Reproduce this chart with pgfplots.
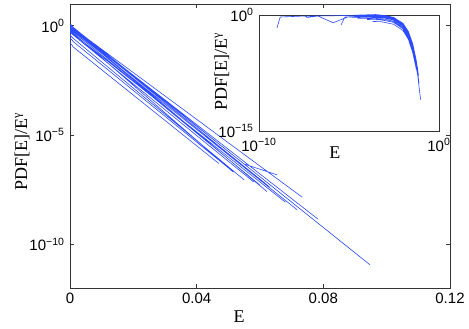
\documentclass[border=0pt]{standalone}
\usepackage{fontspec}
\setmainfont{Liberation Serif}
\setsansfont{Liberation Sans}
\usepackage{pgfplots}
\usepackage{pgfplotstable}
\pgfplotsset{compat=1.18}
\definecolor{curveblue}{RGB}{45,75,255}

% all curves in one table, separated by nan rows
\pgfplotstableread{
E P
1e-4 1.07
3e-4 1.15
0.001 0.86
0.003 0.504
0.01 7.8e-2
0.02 5.4e-3
0.035 9.8e-5
0.055 4.7e-7
0.0947 1.16e-11
nan nan
1e-5 0.60
1e-4 0.68
0.001 0.47
0.003 0.264
0.01 3.47e-2
0.02 1.9e-3
0.035 2.45e-5
0.0515 2.05e-7
nan nan
5e-5 1.05
3e-4 0.93
0.001 0.755
0.003 0.43
0.01 6.0e-2
0.02 3.63e-3
0.035 5.37e-5
0.055 1.95e-7
0.0622 2.58e-8
nan nan
2e-5 0.955
2e-4 1.07
0.001 0.767
0.003 0.452
0.01 7.08e-2
0.02 5.01e-3
0.035 9.44e-5
0.055 4.73e-7
0.0654 1.51e-7
nan nan
4e-8 0.71
1e-6 0.79
1e-4 1.0
5e-4 0.91
0.001 0.78
0.003 0.477
0.01 8.5e-2
0.02 7.24e-3
0.035 1.8e-4
0.055 1.30e-6
0.0733 1.44e-8
nan nan
3e-5 0.83
3e-4 0.76
0.001 0.61
0.003 0.356
0.01 5.5e-2
0.02 3.8e-3
0.035 6.9e-5
0.055 3.31e-7
0.0717 3.83e-9
nan nan
1e-4 1.07
4e-4 0.977
0.001 0.77
0.003 0.458
0.01 7.41e-2
0.02 5.5e-3
0.035 1.11e-4
0.055 6.1e-7
0.0783 1.42e-9
nan nan
1e-5 0.525
2e-4 0.48
0.001 0.382
0.003 0.222
0.01 3.31e-2
0.02 2.19e-3
0.035 3.72e-5
0.058 7.18e-8
nan nan
3e-5 0.38
3e-4 0.339
0.001 0.269
0.003 0.155
0.01 2.24e-2
0.02 1.41e-3
0.035 2.24e-5
0.055 8.9e-8
nan nan
1e-4 0.263
5e-4 0.24
0.001 0.191
0.003 0.111
0.01 1.66e-2
0.02 1.10e-3
0.035 1.86e-5
0.05 3.16e-7
nan nan
2e-4 0.148
6e-4 0.135
0.001 0.108
0.003 6.34e-2
0.01 9.8e-3
0.02 6.76e-4
0.035 1.23e-5
0.047 4.99e-7
nan nan
5e-5 0.74
5e-4 0.676
0.001 0.538
0.003 0.311
0.01 4.57e-2
0.02 2.95e-3
0.035 4.84e-5
0.06 5.13e-8
nan nan
2e-4 0.933
6e-4 0.851
0.001 0.675
0.003 0.386
0.01 5.5e-2
0.02 3.39e-3
0.035 5.19e-5
0.056 1.49e-7
nan nan
1e-9 2.1e-2
1.5e-9 0.55
3.6e-8 0.74
4.7e-8 0.48
1.9e-7 0.74
1.3e-6 0.1
8.7e-6 0.56
1e-4 0.79
0.001 0.764
0.003 0.446
0.01 6.76e-2
0.02 4.57e-3
0.035 8.04e-5
0.055 3.67e-7
0.063 4.26e-8
nan nan
3.6e-6 5.1e-2
6e-6 0.55
3e-5 0.63
3e-4 0.537
0.001 0.431
0.003 0.254
0.01 3.98e-2
0.02 2.82e-3
0.035 5.31e-5
0.055 2.66e-7
0.068 8.51e-9
}\curves

\pgfplotsset{
  matlab/.style={
    scale only axis,
    anchor=south west,
    tick align=inside,
    major tick length=2.7pt,
    xminorticks=false, yminorticks=false,
    axis line style={black!80, line width=0.6pt},
    every tick/.style={black!80, line width=0.5pt},
    ticklabel style={font=\sffamily\fontsize{10}{12}\selectfont},
    label style={font=\fontsize{12}{14}\selectfont},
    xlabel={E},
    ylabel={PDF[E]/E\textsuperscript{γ}},
  },
  curves/.style={curveblue, line width=0.4pt, unbounded coords=jump},
}

\begin{document}
\begin{tikzpicture}
\path[use as bounding box] (-46.67pt,-27.33pt) rectangle (266pt,192pt);
\begin{axis}[
  matlab,
  at={(0,0)},
  width=253.33pt, height=189.33pt,
  xmin=0, xmax=0.12,
  ymode=log, ymin=1e-12, ymax=10,
  xtick={0,0.04,0.08,0.12},
  xticklabels={0,0.04,0.08,0.12},
  scaled x ticks=false,
  ytick={1e-10,1e-5,1},
  yticklabels={10\textsuperscript{−10},10\textsuperscript{−5},10\textsuperscript{0}},
  xlabel style={at={(axis description cs:0.445,-0.123)}, anchor=base},
  ylabel style={at={(axis description cs:-0.113,0.479)}, anchor=base},
]
\addplot[curves] table[x=E, y=P] {\curves};
\end{axis}

% inset
\begin{axis}[
  matlab,
  at={(126pt,104.67pt)},
  width=120pt, height=77.33pt,
  xmode=log, ymode=log,
  xmin=1e-10, xmax=1, ymin=1e-15, ymax=1,
  xtick={1e-10,1},
  xticklabels={10\textsuperscript{−10},10\textsuperscript{0}},
  ytick={1e-15,1},
  yticklabels={10\textsuperscript{−15},10\textsuperscript{0}},
  major tick length=2pt,
  xticklabel style={yshift=-1.5pt},
  axis background/.style={fill=white},
  xlabel style={at={(axis description cs:0.422,-0.233)}, anchor=base},
  ylabel style={at={(axis description cs:-0.178,0.509)}, anchor=base},
]
\addplot[curves] table[x=E, y=P] {\curves};
\end{axis}
\end{tikzpicture}
\end{document}
